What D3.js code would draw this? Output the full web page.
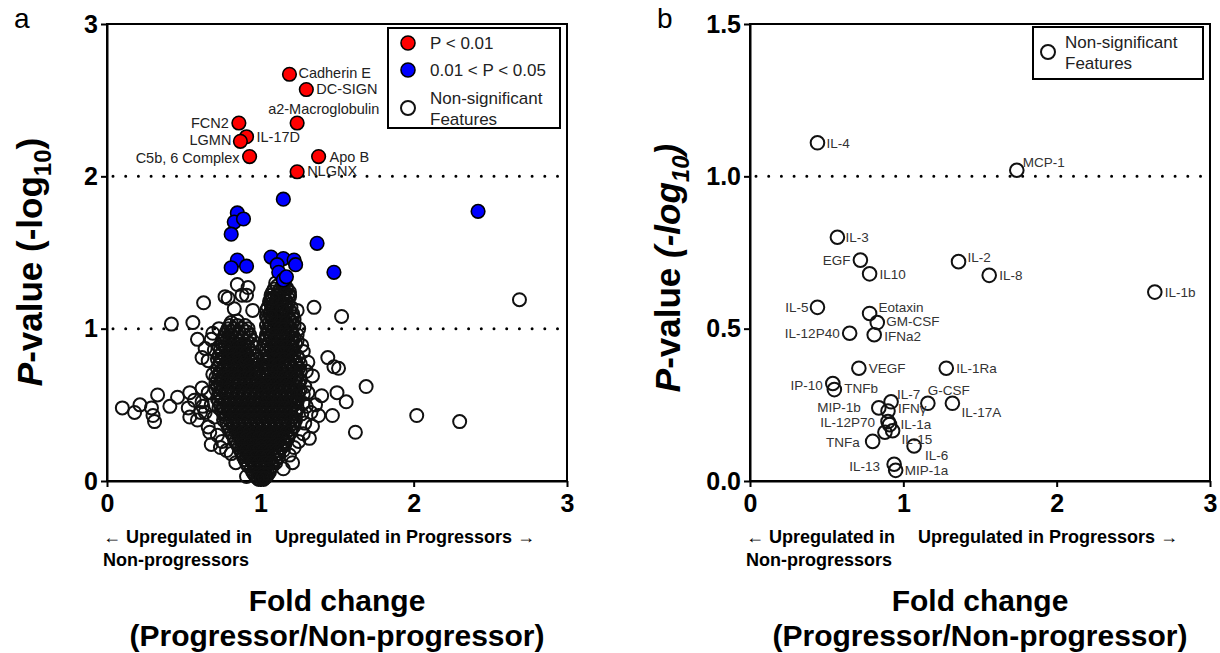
<!DOCTYPE html>
<html>
<head>
<meta charset="utf-8">
<script src="https://d3js.org/d3.v7.min.js"></script>
<style>
  body { margin: 0; background: #fff; }
  text { font-family: "Liberation Sans", Arial, sans-serif; }
</style>
</head>
<body>
<svg width="1220" height="653"></svg>
<script>
    // ---- panel a : significant features (fold change, -log10 p)
    var redNames = ["Cadherin E", "DC-SIGN", "a2-Macroglobulin", "FCN2", "IL-17D", "LGMN", "C5b, 6 Complex", "Apo B", "NLGNX"];
    var redFC = [1.19, 1.30, 1.24, 0.86, 0.91, 0.87, 0.93, 1.38, 1.24];
    var redP = [2.67, 2.57, 2.35, 2.35, 2.26, 2.23, 2.13, 2.13, 2.03];

    var blueFC = [1.15, 0.85, 0.83, 0.89, 0.81, 1.37, 0.85, 0.81, 0.91, 1.07, 1.15, 1.22, 1.23, 1.11, 1.12, 1.15, 1.17, 1.48, 2.42];
    var blueP = [1.85, 1.76, 1.70, 1.72, 1.62, 1.56, 1.45, 1.40, 1.41, 1.47, 1.46, 1.45, 1.42, 1.42, 1.37, 1.32, 1.34, 1.37, 1.77];

    // non-significant features, dense core read row by row: [-log10 p, fold changes...]
    var nsRows = [
        [1.30, 1.10, 1.15],
        [1.26, 1.09, 1.13, 1.17],
        [1.22, 1.07, 1.11, 1.15, 1.19],
        [1.18, 1.06, 1.10, 1.13, 1.17],
        [1.14, 1.05, 1.09, 1.12, 1.16, 1.20],
        [1.10, 1.06, 1.09, 1.13, 1.17, 1.21],
        [1.06, 1.05, 1.08, 1.12, 1.15, 1.19],
        [1.02, 0.80, 0.85, 0.90, 1.04, 1.07, 1.11, 1.14, 1.18, 1.22],
        [0.98, 0.78, 0.82, 0.86, 0.91, 1.05, 1.08, 1.12, 1.16, 1.20],
        [0.94, 0.76, 0.80, 0.84, 0.88, 0.93, 1.04, 1.07, 1.10, 1.14, 1.17, 1.22],
        [0.90, 0.75, 0.79, 0.83, 0.86, 0.90, 0.94, 1.05, 1.09, 1.12, 1.16, 1.19, 1.23],
        [0.86, 0.74, 0.78, 0.81, 0.85, 0.89, 0.93, 1.04, 1.07, 1.11, 1.14, 1.18, 1.21],
        [0.82, 0.73, 0.77, 0.80, 0.84, 0.88, 0.92, 0.96, 1.03, 1.06, 1.10, 1.13, 1.17, 1.20, 1.24],
        [0.78, 0.74, 0.78, 0.82, 0.86, 0.90, 0.94, 1.04, 1.08, 1.11, 1.15, 1.19, 1.23],
        [0.74, 0.72, 0.76, 0.79, 0.83, 0.87, 0.91, 0.95, 0.98, 1.03, 1.06, 1.10, 1.13, 1.17, 1.21, 1.25],
        [0.70, 0.73, 0.77, 0.81, 0.85, 0.88, 0.92, 0.96, 0.99, 1.02, 1.05, 1.09, 1.12, 1.16, 1.20, 1.24],
        [0.66, 0.72, 0.75, 0.79, 0.83, 0.87, 0.90, 0.94, 0.98, 1.02, 1.06, 1.10, 1.14, 1.18, 1.22, 1.26],
        [0.62, 0.72, 0.76, 0.80, 0.84, 0.88, 0.92, 0.96, 1.00, 1.03, 1.07, 1.11, 1.15, 1.19, 1.23],
        [0.58, 0.73, 0.77, 0.81, 0.85, 0.89, 0.93, 0.97, 1.01, 1.05, 1.09, 1.13, 1.17, 1.21, 1.25],
        [0.54, 0.72, 0.75, 0.79, 0.83, 0.87, 0.91, 0.95, 0.99, 1.03, 1.07, 1.11, 1.15, 1.19, 1.23],
        [0.50, 0.74, 0.78, 0.82, 0.86, 0.90, 0.94, 0.98, 1.02, 1.06, 1.10, 1.14, 1.18, 1.22],
        [0.46, 0.75, 0.79, 0.83, 0.87, 0.91, 0.95, 0.99, 1.03, 1.07, 1.11, 1.15, 1.19, 1.23],
        [0.42, 0.77, 0.81, 0.85, 0.89, 0.93, 0.97, 1.01, 1.05, 1.09, 1.13, 1.17, 1.21],
        [0.38, 0.78, 0.82, 0.86, 0.90, 0.94, 0.98, 1.02, 1.06, 1.10, 1.14, 1.18, 1.22],
        [0.34, 0.80, 0.84, 0.88, 0.92, 0.96, 1.00, 1.04, 1.08, 1.12, 1.16, 1.20],
        [0.30, 0.82, 0.86, 0.90, 0.94, 0.98, 1.02, 1.06, 1.10, 1.14, 1.18],
        [0.26, 0.84, 0.88, 0.92, 0.96, 1.00, 1.04, 1.08, 1.12, 1.16],
        [0.22, 0.86, 0.90, 0.94, 0.98, 1.02, 1.06, 1.10, 1.14],
        [0.18, 0.88, 0.92, 0.96, 1.00, 1.04, 1.08, 1.12],
        [0.14, 0.90, 0.94, 0.98, 1.02, 1.06, 1.10],
        [0.10, 0.92, 0.96, 1.00, 1.04, 1.08],
        [0.06, 0.95, 0.99, 1.03, 1.06],
        [0.03, 0.97, 1.00, 1.04],
        [0.01, 0.99, 1.02],
        // second, staggered pass through the same core
        [1.28, 1.11, 1.15],
        [1.24, 1.08, 1.12, 1.16, 1.19],
        [1.20, 1.07, 1.11, 1.15, 1.18],
        [1.16, 1.07, 1.11, 1.14, 1.18],
        [1.12, 1.04, 1.07, 1.11, 1.15, 1.19],
        [1.08, 1.04, 1.07, 1.10, 1.14, 1.18, 1.21],
        [1.04, 1.06, 1.10, 1.13, 1.17, 1.21],
        [1.00, 0.79, 0.83, 0.88, 0.92, 1.05, 1.09, 1.13, 1.16, 1.20],
        [0.96, 0.77, 0.81, 0.85, 0.89, 0.93, 1.04, 1.07, 1.10, 1.14, 1.18, 1.21],
        [0.92, 0.75, 0.78, 0.82, 0.86, 0.91, 0.95, 1.03, 1.06, 1.10, 1.14, 1.18, 1.21, 1.24],
        [0.88, 0.73, 0.77, 0.81, 0.85, 0.88, 0.92, 0.96, 1.03, 1.07, 1.10, 1.14, 1.17, 1.21],
        [0.84, 0.75, 0.79, 0.83, 0.87, 0.91, 0.95, 1.05, 1.08, 1.12, 1.15, 1.19, 1.22],
        [0.80, 0.72, 0.75, 0.79, 0.82, 0.86, 0.90, 0.94, 0.97, 1.02, 1.05, 1.09, 1.13, 1.16, 1.21, 1.25],
        [0.76, 0.73, 0.77, 0.81, 0.85, 0.89, 0.93, 0.96, 1.02, 1.05, 1.09, 1.12, 1.16, 1.20, 1.24],
        [0.72, 0.74, 0.78, 0.82, 0.85, 0.89, 0.93, 0.97, 1.04, 1.07, 1.11, 1.15, 1.19, 1.23, 1.26],
        [0.68, 0.71, 0.75, 0.79, 0.83, 0.86, 0.90, 0.94, 0.97, 1.00, 1.04, 1.08, 1.12, 1.16, 1.20, 1.24],
        [0.64, 0.74, 0.78, 0.82, 0.86, 0.90, 0.94, 0.98, 1.01, 1.05, 1.09, 1.13, 1.17, 1.21, 1.25],
        [0.60, 0.71, 0.75, 0.79, 0.83, 0.87, 0.91, 0.95, 0.99, 1.03, 1.07, 1.11, 1.15, 1.19, 1.23, 1.26],
        [0.56, 0.74, 0.78, 0.82, 0.86, 0.90, 0.94, 0.98, 1.02, 1.05, 1.09, 1.13, 1.17, 1.21, 1.24],
        [0.52, 0.73, 0.77, 0.81, 0.84, 0.88, 0.92, 0.96, 1.00, 1.04, 1.08, 1.12, 1.16, 1.20, 1.24],
        [0.48, 0.73, 0.76, 0.80, 0.84, 0.88, 0.92, 0.96, 1.00, 1.04, 1.08, 1.12, 1.16, 1.20, 1.24],
        [0.44, 0.76, 0.80, 0.84, 0.88, 0.92, 0.96, 1.00, 1.04, 1.08, 1.12, 1.16, 1.20, 1.23],
        [0.40, 0.76, 0.80, 0.84, 0.88, 0.92, 0.96, 1.00, 1.04, 1.08, 1.12, 1.16, 1.20, 1.23],
        [0.36, 0.79, 0.83, 0.87, 0.91, 0.95, 0.99, 1.03, 1.07, 1.11, 1.15, 1.19, 1.22],
        [0.32, 0.81, 0.85, 0.89, 0.93, 0.97, 1.01, 1.05, 1.09, 1.13, 1.17, 1.20],
        [0.28, 0.83, 0.87, 0.91, 0.95, 0.99, 1.03, 1.07, 1.11, 1.15, 1.18],
        [0.24, 0.85, 0.89, 0.93, 0.97, 1.01, 1.05, 1.09, 1.13, 1.16],
        [0.20, 0.87, 0.91, 0.95, 0.99, 1.03, 1.07, 1.11, 1.15],
        [0.16, 0.89, 0.93, 0.97, 1.01, 1.05, 1.09, 1.12],
        [0.12, 0.91, 0.95, 0.99, 1.03, 1.07, 1.10],
        [0.08, 0.94, 0.98, 1.02, 1.06],
        [0.045, 0.96, 0.99, 1.02, 1.05],
        [0.02, 0.98, 1.01, 1.03]
    ];

    // non-significant features scattered around the core: [fold change, -log10 p]
    var nsScatter = [
        [0.85, 1.29], [0.92, 1.27], [0.88, 1.22], [0.91, 1.22], [0.79, 1.20], [0.77, 1.21], [0.95, 1.12], [0.83, 1.13],
        [0.85, 1.05], [0.81, 1.04], [1.08, 1.20], [1.19, 1.21], [1.17, 1.27], [1.35, 1.14], [1.53, 1.08], [1.07, 1.08],
        [1.22, 1.06], [1.24, 0.96], [1.27, 0.89], [1.25, 1.00], [1.24, 1.12], [0.63, 1.17], [0.56, 1.04], [0.42, 1.03],
        [2.69, 1.19],
        [0.59, 0.93], [0.68, 0.93], [0.64, 0.87], [0.62, 0.81], [0.66, 0.79], [0.70, 0.86], [0.69, 0.97], [0.73, 1.00],
        [0.71, 0.64], [0.69, 0.70], [0.66, 0.58],
        [0.10, 0.48], [0.18, 0.45], [0.215, 0.50], [0.29, 0.48], [0.33, 0.565], [0.30, 0.43], [0.31, 0.39], [0.41, 0.49],
        [0.46, 0.55], [0.54, 0.58], [0.62, 0.61], [0.53, 0.48], [0.54, 0.42], [0.59, 0.40], [0.625, 0.49], [0.61, 0.45],
        [0.66, 0.355], [0.68, 0.24], [0.81, 0.18], [0.91, 0.03], [0.67, 0.32], [0.57, 0.53], [0.62, 0.52], [0.68, 0.50],
        [0.70, 0.42], [0.72, 0.30], [0.75, 0.26], [0.78, 0.20], [0.64, 0.45], [0.74, 0.22], [0.84, 0.12],
        [1.44, 0.81], [1.48, 0.75], [1.51, 0.74], [1.34, 0.69], [1.69, 0.62], [1.31, 0.58], [1.40, 0.56], [1.50, 0.58],
        [1.56, 0.52], [1.47, 0.43], [2.02, 0.43], [2.30, 0.39], [1.62, 0.32], [1.32, 0.28], [1.22, 0.22], [1.19, 0.17],
        [1.38, 0.43], [1.28, 0.51], [1.24, 0.53], [1.30, 0.49], [1.29, 0.38], [1.26, 0.77], [1.31, 0.78], [1.26, 0.66],
        [1.29, 0.62], [1.33, 0.45], [1.28, 0.31], [1.25, 0.26], [1.34, 0.36], [1.27, 0.44], [1.21, 0.12], [1.15, 0.08],
        [1.30, 0.72], [1.28, 0.85], [1.36, 0.50], [1.28, 0.57]
    ];

    // ---- panel b : cytokines
    var cytoNames = ["IL-4", "MCP-1", "IL-3", "EGF", "IL10", "IL-2", "IL-8", "IL-1b", "IL-5", "Eotaxin", "GM-CSF",
        "IL-12P40", "IFNa2", "VEGF", "IL-1Ra", "IP-10", "TNFb", "IL-7", "G-CSF", "IL-17A", "MIP-1b", "IFNγ",
        "IL-12P70", "IL-1a", "IL-15", "", "TNFa", "IL-6", "IL-13", "MIP-1a"];
    var cytoFC = [0.44, 1.74, 0.57, 0.72, 0.78, 1.36, 1.56, 2.64, 0.44, 0.78, 0.83,
        0.65, 0.81, 0.71, 1.28, 0.54, 0.55, 0.92, 1.16, 1.32, 0.84, 0.90,
        0.90, 0.91, 0.93, 0.88, 0.80, 1.07, 0.94, 0.95];
    var cytoP = [1.11, 1.02, 0.80, 0.725, 0.68, 0.72, 0.675, 0.62, 0.57, 0.55, 0.52,
        0.485, 0.48, 0.37, 0.37, 0.32, 0.30, 0.26, 0.255, 0.255, 0.24, 0.23,
        0.195, 0.185, 0.165, 0.16, 0.13, 0.115, 0.055, 0.035];

    var xTicks = [0, 1, 2, 3];
    var yTicksA = [0, 1, 2, 3];
    var yTicksB = [0, 0.5, 1.0, 1.5];

    // label placement (px offsets from the point, text anchor)
    var labelPos = {
        "Cadherin E": [9, -1, "start"], "DC-SIGN": [10, -1, "start"], "a2-Macroglobulin": [-29, -14, "start"],
        "FCN2": [-10, 0, "end"], "IL-17D": [10, 0, "start"], "LGMN": [-9, -1, "end"],
        "C5b, 6 Complex": [-10, 1, "end"], "Apo B": [11, 0, "start"], "NLGNX": [10, -1, "start"],
        "IL-4": [9, 0, "start"], "MCP-1": [6, -8, "start"], "IL-3": [8, 0, "start"], "EGF": [-10, 0, "end"],
        "IL10": [10, 0, "start"], "IL-2": [9, -4, "start"], "IL-8": [10, 0, "start"], "IL-1b": [10, 0, "start"],
        "IL-5": [-9, 0, "end"], "Eotaxin": [9, -6, "start"], "GM-CSF": [9, -1, "start"], "IL-12P40": [-10, 0, "end"],
        "IFNa2": [10, 2, "start"], "VEGF": [10, 0, "start"], "IL-1Ra": [10, 0, "start"], "IP-10": [-10, 2, "end"],
        "TNFb": [10, -1, "start"], "IL-7": [6, -8, "start"], "G-CSF": [0, -13, "start"], "IL-17A": [9, 9, "start"],
        "MIP-1b": [-18, -1, "end"], "IFNγ": [10, -3, "start"], "IL-12P70": [-13, 1, "end"], "IL-1a": [11, 0, "start"],
        "IL-15": [9, 9, "start"], "TNFa": [-13, 1, "end"], "IL-6": [11, 9, "start"], "IL-13": [-14, 2, "end"],
        "MIP-1a": [9, 0, "start"]
    };

    var svg = d3.select('svg');

    // Scales
    var xA = d3.scaleLinear().domain([0, 3]).range([107, 567]);
    var yA = d3.scaleLinear().domain([0, 3]).range([481, 24]);
    var xB = d3.scaleLinear().domain([0, 3]).range([750, 1210]);
    var yB = d3.scaleLinear().domain([0, 1.5]).range([481, 24]);

    function frame(x, y, yTicks, fmt) {
        svg.append('rect')
            .attr('x', x.range()[0]).attr('y', y.range()[1])
            .attr('width', x.range()[1] - x.range()[0]).attr('height', y.range()[0] - y.range()[1])
            .attr('fill', 'none').attr('stroke', '#000').attr('stroke-width', 2);

        var gx = svg.append('g').attr('transform', 'translate(0,' + y.range()[0] + ')')
            .call(d3.axisBottom(x).tickValues(xTicks).tickSize(6).tickSizeOuter(0).tickPadding(7).tickFormat(d3.format('d')));
        var gy = svg.append('g').attr('transform', 'translate(' + x.range()[0] + ',0)')
            .call(d3.axisLeft(y).tickValues(yTicks).tickSize(6).tickSizeOuter(0).tickPadding(3).tickFormat(fmt));
        [gx, gy].forEach(function (g) {
            g.selectAll('path, line').attr('stroke', '#000').attr('stroke-width', 2);
            g.selectAll('text').attr('fill', '#000').style('font-size', '25px').style('font-weight', 'bold');
        });
    }

    function dotted(x, y, v) {
        svg.append('line')
            .attr('x1', x.range()[0] + 6).attr('x2', x.range()[1])
            .attr('y1', y(v)).attr('y2', y(v))
            .attr('stroke', '#000').attr('stroke-width', 3)
            .attr('stroke-linecap', 'round').attr('stroke-dasharray', '0 12.7');
    }

    function label(x, y, fc, p, name, size, color) {
        if (!name) return;
        var o = labelPos[name];
        svg.append('text')
            .attr('x', x(fc) + o[0]).attr('y', y(p) + o[1]).attr('dy', '0.35em')
            .attr('text-anchor', o[2])
            .style('font-size', size + 'px').attr('fill', color)
            .text(name);
    }

    // ---------------- panel a
    frame(xA, yA, yTicksA, d3.format('d'));
    dotted(xA, yA, 2);
    dotted(xA, yA, 1);

    var nsPoints = [];
    nsRows.forEach(function (r) {
        r.slice(1).forEach(function (fc) { nsPoints.push([fc, r[0]]); });
    });
    nsPoints = nsPoints.concat(nsScatter);

    svg.append('g').selectAll('circle')
        .data(nsPoints)
        .enter().append('circle')
        .attr('cx', function (d) { return xA(d[0]); })
        .attr('cy', function (d) { return yA(d[1]); })
        .attr('r', 6.5)
        .attr('fill', 'none').attr('stroke', '#111').attr('stroke-width', 2);

    svg.append('g').selectAll('circle')
        .data(d3.range(blueFC.length))
        .enter().append('circle')
        .attr('cx', function (i) { return xA(blueFC[i]); })
        .attr('cy', function (i) { return yA(blueP[i]); })
        .attr('r', 6.8)
        .attr('fill', '#0000ff').attr('stroke', '#000').attr('stroke-width', 1.6);

    svg.append('g').selectAll('circle')
        .data(d3.range(redFC.length))
        .enter().append('circle')
        .attr('cx', function (i) { return xA(redFC[i]); })
        .attr('cy', function (i) { return yA(redP[i]); })
        .attr('r', 6.8)
        .attr('fill', '#ff0000').attr('stroke', '#000').attr('stroke-width', 1.6);

    redNames.forEach(function (n, i) { label(xA, yA, redFC[i], redP[i], n, 14.5, '#222'); });

    // legend a
    svg.append('rect').attr('x', 388).attr('y', 28).attr('width', 172).attr('height', 100)
        .attr('fill', '#fff').attr('stroke', '#000').attr('stroke-width', 2);
    var legA = [
        { fill: '#ff0000', stroke: '#000', w: 1.6, y: 43, lines: ['P < 0.01'] },
        { fill: '#0000ff', stroke: '#000', w: 1.6, y: 70, lines: ['0.01 < P < 0.05'] },
        { fill: 'none', stroke: '#111', w: 2, y: 108, lines: ['Non-significant', 'Features'] }
    ];
    legA.forEach(function (l) {
        svg.append('circle').attr('cx', 408).attr('cy', l.y).attr('r', 7)
            .attr('fill', l.fill).attr('stroke', l.stroke).attr('stroke-width', l.w);
        l.lines.forEach(function (t, j) {
            svg.append('text').attr('x', 430)
                .attr('y', l.y + 6 + (l.lines.length > 1 ? (j * 21 - 10) : 0))
                .style('font-size', '17px').attr('fill', '#222').text(t);
        });
    });

    // ---------------- panel b
    frame(xB, yB, yTicksB, d3.format('.1f'));
    dotted(xB, yB, 1.0);

    svg.append('g').selectAll('circle')
        .data(d3.range(cytoFC.length))
        .enter().append('circle')
        .attr('cx', function (i) { return xB(cytoFC[i]); })
        .attr('cy', function (i) { return yB(cytoP[i]); })
        .attr('r', 6.8)
        .attr('fill', 'none').attr('stroke', '#111').attr('stroke-width', 2);

    cytoNames.forEach(function (n, i) { label(xB, yB, cytoFC[i], cytoP[i], n, 13.5, '#333'); });

    svg.append('rect').attr('x', 1033).attr('y', 27).attr('width', 170).attr('height', 52)
        .attr('fill', '#fff').attr('stroke', '#000').attr('stroke-width', 2);
    svg.append('circle').attr('cx', 1048).attr('cy', 52).attr('r', 7)
        .attr('fill', 'none').attr('stroke', '#111').attr('stroke-width', 2);
    svg.append('text').attr('x', 1065).attr('y', 48).style('font-size', '17px').attr('fill', '#222').text('Non-significant');
    svg.append('text').attr('x', 1065).attr('y', 69).style('font-size', '17px').attr('fill', '#222').text('Features');

    // ---------------- shared text
    [[xA, 30, 262, 'a', false], [xB, 668, 268, 'b', true]].forEach(function (p) {
        var x = p[0];
        var left = x.range()[0], mid = (x.range()[0] + x.range()[1]) / 2;

        svg.append('text').attr('x', left - 93).attr('y', 28)
            .style('font-size', '28px').text(p[3]);

        var t = svg.append('text')
            .attr('transform', 'translate(' + p[1] + ',' + p[2] + ') rotate(-90)')
            .attr('text-anchor', 'middle').attr('dy', '0.35em')
            .style('font-size', '35px').style('font-weight', 'bold');
        t.append('tspan').style('font-style', 'italic').text('P');
        t.append('tspan').text('-value ');
        var it = p[4] ? 'italic' : 'normal';
        t.append('tspan').style('font-style', it).text('(-log');
        t.append('tspan').style('font-style', it).style('font-size', '24px').attr('dy', 9).text('10');
        t.append('tspan').style('font-style', it).attr('dy', -9).text(')');

        svg.append('text').attr('x', left - 4).attr('y', 543)
            .style('font-size', '18px').style('font-weight', 'bold').text('\u2190 Upregulated in');
        svg.append('text').attr('x', left + 168).attr('y', 543)
            .style('font-size', '18px').style('font-weight', 'bold').text('Upregulated in Progressors \u2192');
        svg.append('text').attr('x', left - 4).attr('y', 566)
            .style('font-size', '18px').style('font-weight', 'bold').text('Non-progressors');

        svg.append('text').attr('x', mid).attr('y', 611).attr('text-anchor', 'middle')
            .style('font-size', '30px').style('font-weight', 'bold').text('Fold change');
        svg.append('text').attr('x', mid).attr('y', 646).attr('text-anchor', 'middle')
            .style('font-size', '30px').style('font-weight', 'bold').text('(Progressor/Non-progressor)');
    });
</script>
</body>
</html>
